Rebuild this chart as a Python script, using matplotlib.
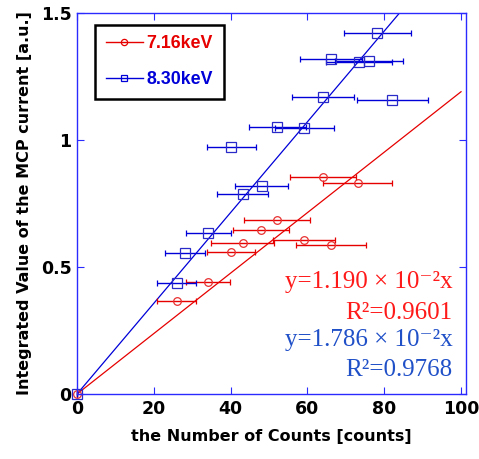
import matplotlib
matplotlib.use("Agg")
import matplotlib.pyplot as plt
from matplotlib.lines import Line2D
import numpy as np

# 7.16 keV data (counts, integrated MCP current, count error)
x_716 = [0, 26.0, 34.1, 40.1, 43.1, 48.0, 52.1, 59.1, 66.1, 64.0, 73.1]
y_716 = [0, 0.365, 0.440, 0.559, 0.596, 0.646, 0.686, 0.605, 0.588, 0.855, 0.829]
xerr_716 = [0, 5.1, 5.8, 6.3, 8.1, 7.3, 8.7, 8.1, 9.1, 8.6, 9.0]

# 8.30 keV data
x_830 = [0, 26.0, 28.1, 34.2, 43.1, 48.1, 40.2, 52.2, 59.2, 64.1, 82.1, 66.2, 73.4, 76.1, 78.2]
y_830 = [0, 0.436, 0.556, 0.633, 0.786, 0.820, 0.974, 1.052, 1.047, 1.170, 1.157, 1.319, 1.308, 1.310, 1.422]
xerr_830 = [0, 5.1, 5.3, 5.9, 6.6, 6.9, 6.4, 7.3, 7.7, 8.1, 9.2, 8.1, 8.55, 8.8, 8.8]

slope_716 = 1.190e-2
slope_830 = 1.786e-2

fit_texts_716 = ['y=1.190 × 10⁻²x', 'R²=0.9601']
fit_texts_830 = ['y=1.786 × 10⁻²x', 'R²=0.9768']

red = '#e60000'
blue = '#0000d8'

fig = plt.figure(figsize=(4.79, 4.59), dpi=100)
ax = fig.add_axes([0.1608, 0.1416, 0.9729 - 0.1608, 0.9717 - 0.1416])

xfit = np.array([0, 100])
ax.plot(xfit, slope_716 * xfit, color=red, lw=0.9)
ax.plot(xfit, slope_830 * xfit, color=blue, lw=0.9)

ax.errorbar(x_716, y_716, xerr=xerr_716, fmt='o', color=red, mfc='none', mec='#e83030',
            ms=5.5, mew=0.9, elinewidth=1.0, capsize=2.5, capthick=1.0, clip_on=False)
ax.errorbar(x_830, y_830, xerr=xerr_830, fmt='s', color=blue, mfc='none', mec='#2a2ac8',
            ms=7, mew=0.9, elinewidth=1.0, capsize=2.5, capthick=1.0, clip_on=False)

ax.set_xlim(0, 101.3)
ax.set_ylim(0, 1.5)
ax.set_xticks([0, 20, 40, 60, 80, 100])
ax.set_yticks([0, 0.5, 1, 1.5])
ax.set_yticklabels(['0', '0.5', '1', '1.5'])

for s in ax.spines.values():
    s.set_color('#2a2aff')
    s.set_linewidth(1.0)
ax.tick_params(direction='in', length=5, color='#2a2aff', top=True, right=True,
               labelsize=12.5, pad=4)
for lab in ax.get_xticklabels() + ax.get_yticklabels():
    lab.set_fontweight('bold')

ax.set_xlabel('the Number of Counts [counts]', fontsize=11.5, fontweight='bold', labelpad=8)
ax.set_ylabel('Integrated Value of the MCP current [a.u.]', fontsize=11.5, fontweight='bold',
              labelpad=6)

handles = [
    Line2D([], [], color=red, lw=1, marker='o', mfc='none', mec=red, ms=4.5, mew=0.9),
    Line2D([], [], color=blue, lw=1, marker='s', mfc='none', mec=blue, ms=5, mew=0.9),
]
leg = ax.legend(handles, ['7.16keV', '8.30keV'], loc='upper left',
                bbox_to_anchor=(0.046, 0.969), frameon=True, fancybox=False,
                edgecolor='black', framealpha=1, handlelength=2.1, handletextpad=0.2,
                borderpad=0.6, labelspacing=1.05, borderaxespad=0,
                prop={'family': 'Liberation Sans', 'weight': 'bold', 'size': 12.8})
leg.get_frame().set_linewidth(1.8)
for t, c in zip(leg.get_texts(), [red, blue]):
    t.set_color(c)

eq_font = {'family': ['Liberation Serif', 'DejaVu Serif'], 'size': 18}
rows = [(0.294, fit_texts_716[0], '#ff1a1a'), (0.213, fit_texts_716[1], '#ff1a1a'),
        (0.142, fit_texts_830[0], '#2050c8'), (0.063, fit_texts_830[1], '#2050c8')]
for yy, txt, col in rows:
    ax.text(0.965, yy, txt, transform=ax.transAxes, ha='right', va='center', color=col,
            **eq_font)

fig.savefig('out.png', dpi=100)
